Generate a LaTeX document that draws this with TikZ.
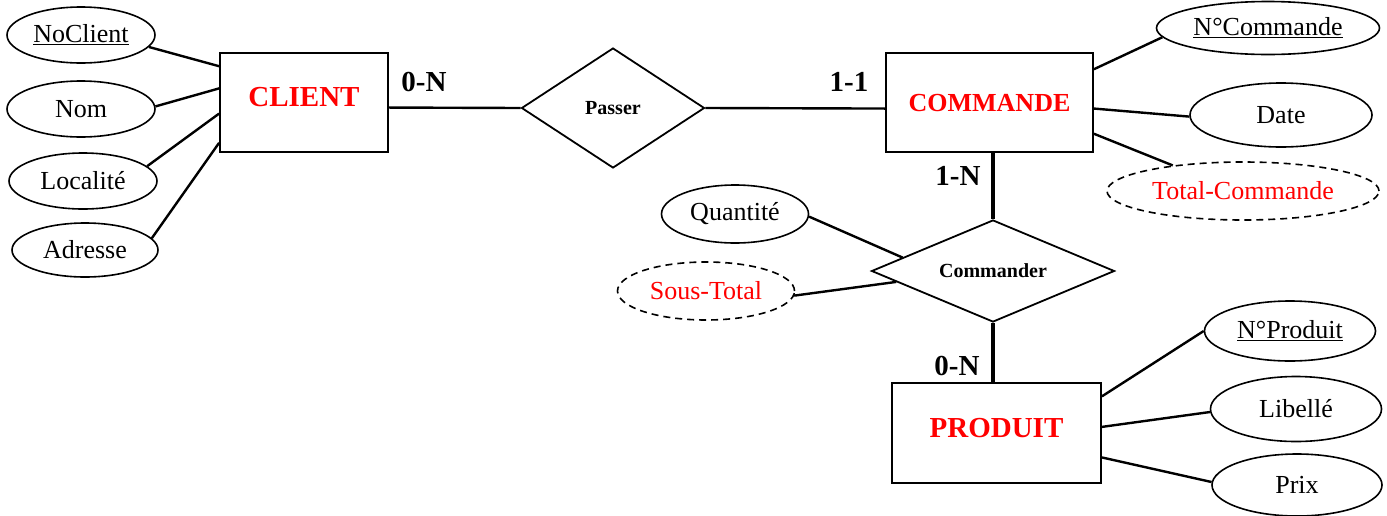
\documentclass[tikz,border=0pt]{standalone}
\usepackage{fontspec}
\setmainfont{Liberation Serif}
\usetikzlibrary{shapes.geometric,calc}
\begin{document}
\begin{tikzpicture}[x=1pt,y=-1pt,
  entity/.style={draw,line width=1.8pt,inner sep=0pt},
  entlab/.style={text=red,font=\fontsize{29}{31}\selectfont\bfseries},
  rel/.style={diamond,draw,line width=1.8pt,inner sep=0pt,font=\fontsize{20}{22}\selectfont\bfseries},
  attr/.style={ellipse,draw,line width=1.6pt,inner sep=0pt,font=\fontsize{26}{28}\selectfont},
  derived/.style={attr,dashed,dash pattern=on 7pt off 5pt,text=red},
  card/.style={font=\fontsize{29}{31}\selectfont\bfseries,inner sep=0pt},
  conn/.style={line width=2.4pt},
  heavy/.style={line width=4pt}
]
\useasboundingbox[fill=white] (0,0) rectangle (1387,515);

% entities
\node[entity,minimum width=168,minimum height=99,label={[entlab,yshift=5.5pt]center:CLIENT}] (client) at (304,102.5) {};
\node[entity,minimum width=207,minimum height=99,label={[entlab,font=\fontsize{26}{28}\selectfont\bfseries,yshift=-1pt]center:COMMANDE}] (commande) at (989.5,102.5) {};
\node[entity,minimum width=209,minimum height=100,label={[entlab,yshift=5pt]center:PRODUIT}] (produit) at (996.5,433) {};

% relationships
\node[rel,minimum width=183,minimum height=120] (passer) at (613,108) {\raisebox{-2pt}{Passer}};
\node[rel,aspect=2.4,minimum width=243,minimum height=102] (commander) at (993,271) {\raisebox{-2pt}{Commander}};

% attributes
\node[attr,minimum width=148,minimum height=56] (noclient) at (81,35) {\underline{NoClient}};
\node[attr,minimum width=148,minimum height=56] (nom) at (81,109) {Nom};
\node[attr,minimum width=148,minimum height=56] (localite) at (83,181) {Localité};
\node[attr,minimum width=146,minimum height=54] (adresse) at (85,250) {Adresse};

\node[attr,minimum width=223,minimum height=53] (ncommande) at (1268,28) {\underline{N°Commande}};
\node[attr,minimum width=182,minimum height=64] (date) at (1281,115) {Date};
\node[derived,minimum width=272,minimum height=58] (total) at (1243,191) {Total-Commande};

\node[attr,minimum width=147,minimum height=58] (quantite) at (735,214) {Quantité};
\node[derived,minimum width=177,minimum height=58] (soustotal) at (706,291) {Sous-Total};

\node[attr,minimum width=171,minimum height=60] (nproduit) at (1290,331) {\underline{N°Produit}};
\node[attr,minimum width=171,minimum height=65] (libelle) at (1296,409) {Libellé};
\node[attr,minimum width=170,minimum height=62] (prix) at (1297,485) {Prix};

% attribute connectors
\draw[conn] (noclient.-10) -- ($(client.north west)!0.14!(client.south west)$);
\draw[conn] (nom.2) -- ($(client.north west)!0.36!(client.south west)$);
\draw[conn] (localite.13) -- ($(client.north west)!0.61!(client.south west)$);
\draw[conn] (adresse.10) -- ($(client.north west)!0.9!(client.south west)$);

\draw[conn] (ncommande.185) -- ($(commande.north east)!0.17!(commande.south east)$);
\draw[conn] (date.181) -- ($(commande.north east)!0.56!(commande.south east)$);
\draw[conn] (total.160) -- ($(commande.north east)!0.81!(commande.south east)$);

\draw[conn] (quantite.358) -- ($(commander.west)!0.26!(commander.north)$);
\draw[conn] (soustotal.357) -- ($(commander.west)!0.21!(commander.south)$);

\draw[conn] (nproduit.180) -- ($(produit.north east)!0.14!(produit.south east)$);
\draw[conn] (libelle.182) -- ($(produit.north east)!0.44!(produit.south east)$);
\draw[conn] (prix.178) -- ($(produit.north east)!0.74!(produit.south east)$);

% relationship connectors
\draw[conn] ($(client.north east)!0.55!(client.south east)$) -- (passer.west);
\draw[conn] (passer.east) -- ($(commande.north west)!0.56!(commande.south west)$);
\draw[heavy] (commander.north) -- (commander.north |- commande.south);
\draw[heavy] (commander.south) -- (commander.south |- produit.north);

% cardinalities
\node[card] (c1) at (424,82) {0-N};
\node[card] (c2) at (849,82) {1-1};
\node[card] (c3) at (958,176) {1-N};
\node[card] (c4) at (957,366) {0-N};
\end{tikzpicture}
\end{document}
